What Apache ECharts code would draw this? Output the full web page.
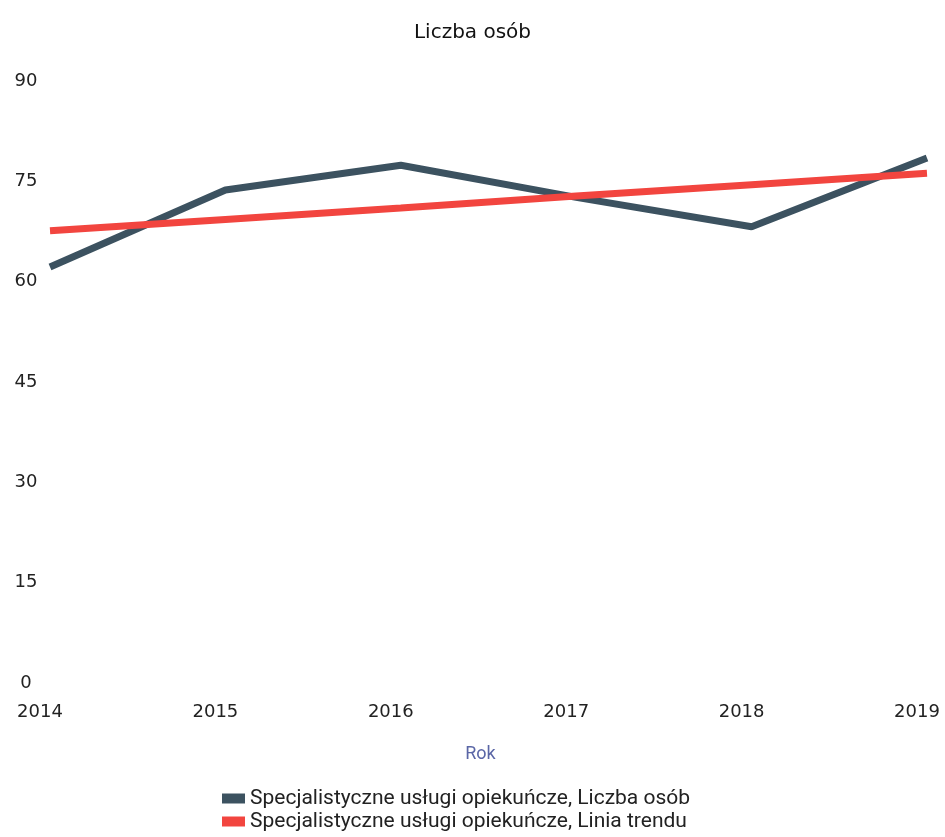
<!DOCTYPE html>
<html>
<head>
<meta charset="utf-8">
<script src="https://cdn.jsdelivr.net/npm/echarts@6/dist/echarts.min.js"></script>
<style>
  html, body { margin: 0; padding: 0; background: #fff; }
  #chart { width: 945px; height: 837px; }
</style>
</head>
<body>
<div id="chart"></div>
<script>
// lata
const years = ['2014', '2015', '2016', '2017', '2018', '2019'];
// liczba osób
const liczbaOsob = [62.2, 73.7, 77.4, 72.6, 68.2, 78.5];
// linia trendu
const liniaTrendu = [67.6, 69.3, 71.0, 72.8, 74.5, 76.2];
const yTicks = [0, 15, 30, 45, 60, 75, 90];

const seriesNames = [
  'Specjalistyczne usługi opiekuńcze, Liczba osób',
  'Specjalistyczne usługi opiekuńcze, Linia trendu'
];

const myChart = echarts.init(document.getElementById('chart'));
const option = {
  animation: false,
  color: ['#3c5260', '#f2453f'],
  title: {
    text: 'Liczba osób',
    left: 'center',
    top: 18,
    textStyle: {
      fontFamily: 'DejaVu Sans',
      fontSize: 20,
      fontWeight: 'normal',
      color: '#111'
    }
  },
  grid: {
    left: 50,
    right: 18,
    top: 81,
    bottom: 154
  },
  legend: {
    orient: 'vertical',
    left: 217,
    bottom: 0,
    itemGap: 2,
    itemWidth: 23,
    itemHeight: 10,
    icon: 'rect',
    textStyle: {
      fontFamily: 'Roboto',
      fontSize: 21,
      lineHeight: 20,
      color: '#222'
    },
    data: seriesNames
  },
  xAxis: {
    type: 'category',
    boundaryGap: false,
    data: years,
    name: 'Rok',
    nameLocation: 'middle',
    nameGap: 62,
    nameTextStyle: {
      fontFamily: 'Roboto',
      fontSize: 18,
      color: '#5a66a6',
      padding: [0, 16, 0, 0]
    },
    axisLine: { show: false },
    axisTick: { show: false },
    axisLabel: {
      margin: 20,
      fontFamily: 'DejaVu Sans',
      fontSize: 18,
      color: '#222',
      padding: [0, 20, 0, 0]
    }
  },
  yAxis: {
    type: 'value',
    min: yTicks[0],
    max: yTicks[yTicks.length - 1],
    interval: 15,
    axisLine: { show: false },
    axisTick: { show: false },
    splitLine: { show: false },
    axisLabel: {
      margin: 24,
      align: 'center',
      fontFamily: 'DejaVu Sans',
      fontSize: 18,
      color: '#222'
    }
  },
  series: [
    {
      name: seriesNames[0],
      type: 'line',
      data: liczbaOsob,
      symbol: 'none',
      lineStyle: { width: 7, color: '#3c5260' }
    },
    {
      name: seriesNames[1],
      type: 'line',
      data: liniaTrendu,
      symbol: 'none',
      lineStyle: { width: 7, color: '#f2453f' }
    }
  ]
};
myChart.setOption(option);
</script>
</body>
</html>
